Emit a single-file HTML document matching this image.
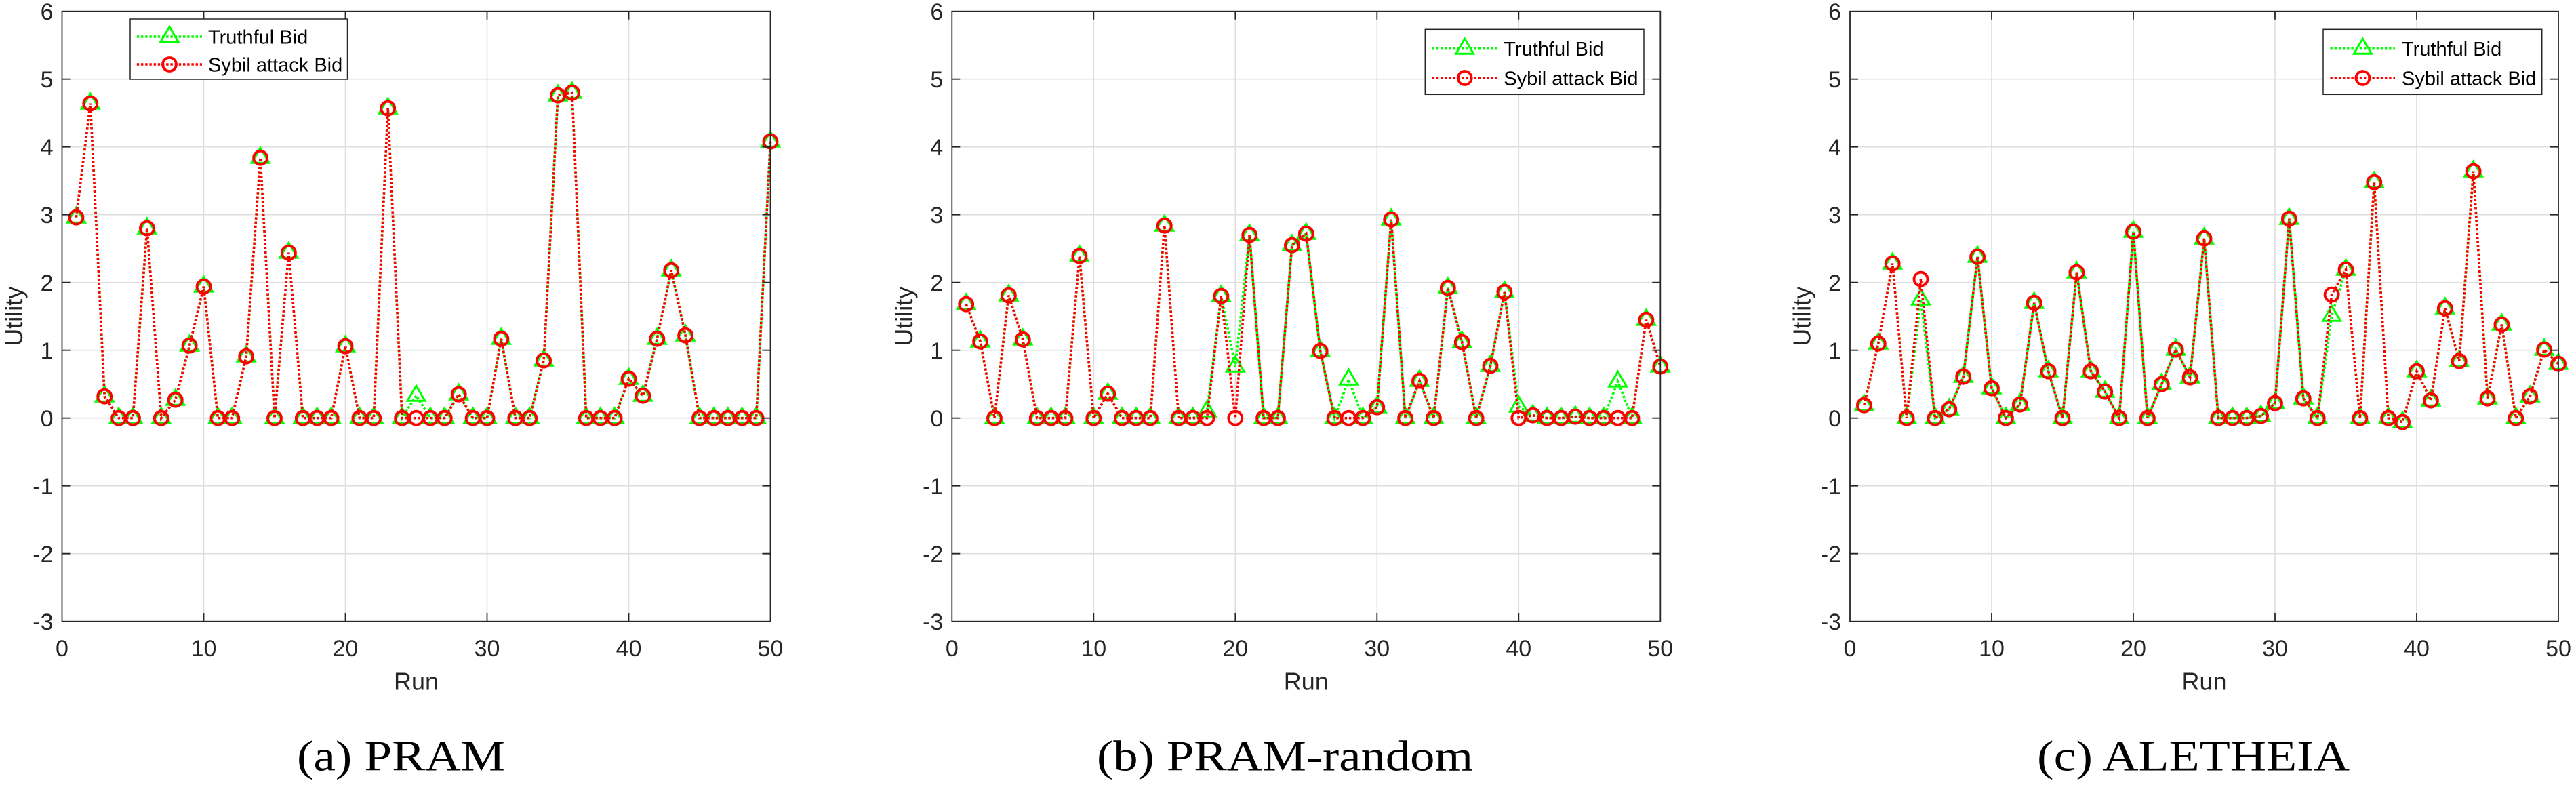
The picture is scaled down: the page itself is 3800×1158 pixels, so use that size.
<!DOCTYPE html>
<html><head><meta charset="utf-8">
<style>
html,body{margin:0;padding:0;background:#fff;width:3800px;height:1158px;overflow:hidden}
svg{display:block}
.tk{font-family:"Liberation Sans",Arial,sans-serif;font-size:34px;fill:#262626}
.lb{font-family:"Liberation Sans",Arial,sans-serif;font-size:36px;fill:#262626}
.lg{font-family:"Liberation Sans",Arial,sans-serif;font-size:29px;fill:#000}
.cap{font-family:"Liberation Serif","DejaVu Serif",serif;font-size:64px;fill:#000}
.grid line{stroke:#dedede;stroke-width:1.6}
.tl{fill:none;stroke:#00ff00;stroke-width:3.6;stroke-dasharray:3.4 2.8;marker-start:url(#mt);marker-mid:url(#mt);marker-end:url(#mt)}
.sl{fill:none;stroke:#ff0000;stroke-width:3.6;stroke-dasharray:3.4 2.8;marker-start:url(#mc);marker-mid:url(#mc);marker-end:url(#mc)}
.lgt{fill:none;stroke:#00ff00;stroke-width:3.6;stroke-dasharray:3.4 2.8}
.lgs{fill:none;stroke:#ff0000;stroke-width:3.6;stroke-dasharray:3.4 2.8}
</style></head><body>
<svg width="3800" height="1158" viewBox="0 0 3800 1158" xmlns="http://www.w3.org/2000/svg">
<defs>
<marker id="mt" markerUnits="userSpaceOnUse" viewBox="-20 -20 40 40" markerWidth="40" markerHeight="40" refX="0" refY="0" orient="0">
<polygon points="0,-14.5 -13,7.5 13,7.5" fill="none" stroke="#00ff00" stroke-width="3"/>
</marker>
<marker id="mc" markerUnits="userSpaceOnUse" viewBox="-20 -20 40 40" markerWidth="40" markerHeight="40" refX="0" refY="0" orient="0">
<circle cx="0" cy="0" r="10" fill="none" stroke="#ff0000" stroke-width="3.8"/>
</marker>
<g id="gridticks">
<g class="grid">
<line x1="209" y1="16.7" x2="209" y2="916.7"/><line x1="418" y1="16.7" x2="418" y2="916.7"/><line x1="627" y1="16.7" x2="627" y2="916.7"/><line x1="836" y1="16.7" x2="836" y2="916.7"/>
<line x1="0" y1="116.7" x2="1045" y2="116.7"/><line x1="0" y1="216.7" x2="1045" y2="216.7"/><line x1="0" y1="316.7" x2="1045" y2="316.7"/><line x1="0" y1="416.7" x2="1045" y2="416.7"/><line x1="0" y1="516.7" x2="1045" y2="516.7"/><line x1="0" y1="616.7" x2="1045" y2="616.7"/><line x1="0" y1="716.7" x2="1045" y2="716.7"/><line x1="0" y1="816.7" x2="1045" y2="816.7"/>
</g>
</g>
<g id="axes">
<rect x="0" y="16.7" width="1045" height="900" fill="none" stroke="#262626" stroke-width="1.8"/>
<path d="M209 916.7v-12M418 916.7v-12M627 916.7v-12M836 916.7v-12M209 16.7v12M418 16.7v12M627 16.7v12M836 16.7v12M0 116.7h12M0 216.7h12M0 316.7h12M0 416.7h12M0 516.7h12M0 616.7h12M0 716.7h12M0 816.7h12M1045 116.7h-12M1045 216.7h-12M1045 316.7h-12M1045 416.7h-12M1045 516.7h-12M1045 616.7h-12M1045 716.7h-12M1045 816.7h-12" stroke="#262626" stroke-width="1.8" fill="none"/>
<g class="tk" text-anchor="middle">
<text x="0" y="968">0</text><text x="209" y="968">10</text><text x="418" y="968">20</text><text x="627" y="968">30</text><text x="836" y="968">40</text><text x="1045" y="968">50</text>
</g>
<g class="tk" text-anchor="end">
<text x="-13" y="28.9">6</text><text x="-13" y="128.9">5</text><text x="-13" y="228.9">4</text><text x="-13" y="328.9">3</text><text x="-13" y="428.9">2</text><text x="-13" y="528.9">1</text><text x="-13" y="628.9">0</text><text x="-13" y="728.9">-1</text><text x="-13" y="828.9">-2</text><text x="-13" y="928.9">-3</text>
</g>
<text class="lb" x="522.5" y="1017.5" text-anchor="middle">Run</text>
<text class="lb" transform="translate(-58.5,466.7) rotate(-90)" text-anchor="middle">Utility</text>
</g>
</defs>

<!-- Plot 1 -->
<g transform="translate(91.5,0)">
<use href="#gridticks"/>
<g transform="translate(0,616.7)">
<polyline class="tl" points="20.9,-296 41.8,-464 62.7,-32 83.6,0 104.5,0 125.4,-280 146.3,0 167.2,-27 188.1,-107 209,-194 229.9,0 250.8,0 271.7,-91 292.6,-384 313.5,0 334.4,-244 355.3,0 376.2,0 397.1,0 418,-106 438.9,0 459.8,0 480.7,-457 501.6,0 522.5,-33 543.4,0 564.3,0 585.2,-35 606.1,0 627,0 647.9,-117 668.8,0 689.7,0 710.6,-85 731.5,-476 752.4,-480 773.3,0 794.2,0 815.1,0 836,-58 856.9,-33 877.8,-117 898.7,-218 919.6,-122 940.5,0 961.4,0 982.3,0 1003.2,0 1024.1,0 1045,-408"/>
<polyline class="sl" points="20.9,-296 41.8,-464 62.7,-32 83.6,0 104.5,0 125.4,-280 146.3,0 167.2,-27 188.1,-107 209,-194 229.9,0 250.8,0 271.7,-91 292.6,-384 313.5,0 334.4,-244 355.3,0 376.2,0 397.1,0 418,-106 438.9,0 459.8,0 480.7,-457 501.6,0 522.5,0 543.4,0 564.3,0 585.2,-35 606.1,0 627,0 647.9,-117 668.8,0 689.7,0 710.6,-85 731.5,-476 752.4,-480 773.3,0 794.2,0 815.1,0 836,-58 856.9,-33 877.8,-117 898.7,-218 919.6,-122 940.5,0 961.4,0 982.3,0 1003.2,0 1024.1,0 1045,-408"/>
</g>
<use href="#axes"/>
<rect x="100.5" y="28" width="320.5" height="89" fill="#fff" stroke="#262626" stroke-width="1.5"/>
<path class="lgt" d="M110.3 54H206.5"/>
<polygon points="158.5,39.5 145.5,61.5 171.5,61.5" fill="none" stroke="#00ff00" stroke-width="3"/>
<path class="lgs" d="M110.3 95H206.5"/>
<circle cx="158.5" cy="95" r="10" fill="none" stroke="#ff0000" stroke-width="3.8"/>
<text class="lg" x="215.5" y="64.4">Truthful Bid</text>
<text class="lg" x="215.5" y="105.4">Sybil attack Bid</text>
</g>

<!-- Plot 2 -->
<g transform="translate(1404.3,0)">
<use href="#gridticks"/>
<g transform="translate(0,616.7)">
<polyline class="tl" points="20.9,-168 41.8,-113 62.7,0 83.6,-181 104.5,-116 125.4,0 146.3,0 167.2,0 188.1,-239 209,0 229.9,-36 250.8,0 271.7,0 292.6,0 313.5,-284 334.4,0 355.3,0 376.2,-10 397.1,-180 418,-76 438.9,-270 459.8,0 480.7,0 501.6,-255 522.5,-272 543.4,-99 564.3,0 585.2,-57 606.1,0 627,-16 647.9,-293 668.8,0 689.7,-55 710.6,0 731.5,-192 752.4,-112 773.3,0 794.2,-77 815.1,-186 836,-17 856.9,-4 877.8,0 898.7,0 919.6,-2 940.5,0 961.4,0 982.3,-54 1003.2,0 1024.1,-145 1045,-76"/>
<polyline class="sl" points="20.9,-168 41.8,-113 62.7,0 83.6,-181 104.5,-116 125.4,0 146.3,0 167.2,0 188.1,-239 209,0 229.9,-36 250.8,0 271.7,0 292.6,0 313.5,-284 334.4,0 355.3,0 376.2,0 397.1,-180 418,0 438.9,-270 459.8,0 480.7,0 501.6,-255 522.5,-272 543.4,-99 564.3,0 585.2,0 606.1,0 627,-16 647.9,-293 668.8,0 689.7,-55 710.6,0 731.5,-192 752.4,-112 773.3,0 794.2,-77 815.1,-186 836,0 856.9,-4 877.8,0 898.7,0 919.6,-2 940.5,0 961.4,0 982.3,0 1003.2,0 1024.1,-145 1045,-76"/>
</g>
<use href="#axes"/>
<rect x="698" y="43.3" width="322.7" height="96" fill="#fff" stroke="#262626" stroke-width="1.5"/>
<path class="lgt" d="M708.4 71.7H804"/>
<polygon points="756.4,57.2 743.4,79.2 769.4,79.2" fill="none" stroke="#00ff00" stroke-width="3"/>
<path class="lgs" d="M708.4 115H804"/>
<circle cx="756.4" cy="115" r="10" fill="none" stroke="#ff0000" stroke-width="3.8"/>
<text class="lg" x="814" y="82">Truthful Bid</text>
<text class="lg" x="814" y="125.4">Sybil attack Bid</text>
</g>

<!-- Plot 3 -->
<g transform="translate(2729,0)">
<use href="#gridticks"/>
<g transform="translate(0,616.7)">
<polyline class="tl" points="20.9,-19 41.8,-110 62.7,-228 83.6,0 104.5,-175 125.4,0 146.3,-13 167.2,-61 188.1,-238 209,-44 229.9,0 250.8,-20 271.7,-170 292.6,-69 313.5,0 334.4,-215 355.3,-69 376.2,-39 397.1,0 418,-275 438.9,0 459.8,-50 480.7,-101 501.6,-60 522.5,-265 543.4,0 564.3,0 585.2,0 606.1,-3 627,-22 647.9,-294 668.8,-29 689.7,0 710.6,-151 731.5,-219 752.4,0 773.3,-348 794.2,0 815.1,6 836,-69 856.9,-26 877.8,-162 898.7,-84 919.6,-364 940.5,-29 961.4,-138 982.3,0 1003.2,-32 1024.1,-101 1045,-80"/>
<polyline class="sl" points="20.9,-19 41.8,-110 62.7,-228 83.6,0 104.5,-205 125.4,0 146.3,-13 167.2,-61 188.1,-238 209,-44 229.9,0 250.8,-20 271.7,-170 292.6,-69 313.5,0 334.4,-215 355.3,-69 376.2,-39 397.1,0 418,-275 438.9,0 459.8,-50 480.7,-101 501.6,-60 522.5,-265 543.4,0 564.3,0 585.2,0 606.1,-3 627,-22 647.9,-294 668.8,-29 689.7,0 710.6,-182 731.5,-219 752.4,0 773.3,-348 794.2,0 815.1,6 836,-69 856.9,-26 877.8,-162 898.7,-84 919.6,-364 940.5,-29 961.4,-138 982.3,0 1003.2,-32 1024.1,-101 1045,-80"/>
</g>
<use href="#axes"/>
<rect x="698" y="43.3" width="322.7" height="96" fill="#fff" stroke="#262626" stroke-width="1.5"/>
<path class="lgt" d="M708.4 71.7H804"/>
<polygon points="756.4,57.2 743.4,79.2 769.4,79.2" fill="none" stroke="#00ff00" stroke-width="3"/>
<path class="lgs" d="M708.4 115H804"/>
<circle cx="756.4" cy="115" r="10" fill="none" stroke="#ff0000" stroke-width="3.8"/>
<text class="lg" x="814" y="82">Truthful Bid</text>
<text class="lg" x="814" y="125.4">Sybil attack Bid</text>
</g>

<!-- Captions -->
<text class="cap" x="438" y="1136.7" textLength="307" lengthAdjust="spacingAndGlyphs">(a) PRAM</text>
<text class="cap" x="1618" y="1136.7" textLength="555" lengthAdjust="spacingAndGlyphs">(b) PRAM-random</text>
<text class="cap" x="3005" y="1136.7" textLength="461" lengthAdjust="spacingAndGlyphs">(c) ALETHEIA</text>
</svg>
</body></html>
